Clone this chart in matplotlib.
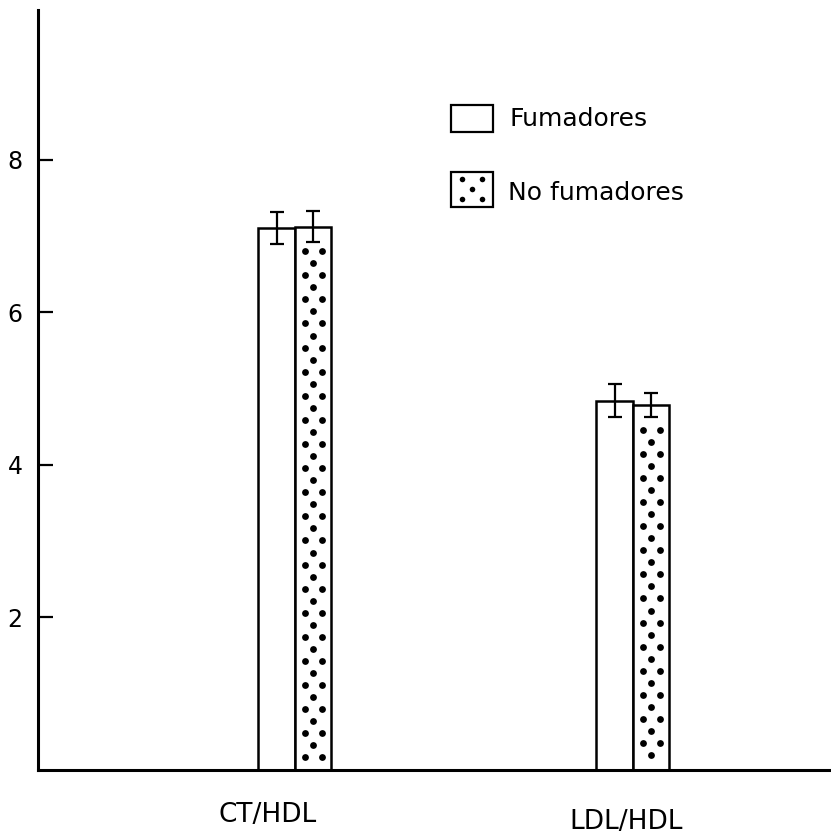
import numpy as np
import matplotlib
matplotlib.use('Agg')
import matplotlib.pyplot as plt
from matplotlib.patches import Rectangle

# ratios for smokers / non smokers
categories = ['CT/HDL', 'LDL/HDL']
fumadores = [7.10, 4.84]
fumadores_err = [0.21, 0.22]
no_fumadores = [7.12, 4.78]
no_fumadores_err = [0.20, 0.16]
yticks = [2, 4, 6, 8]
legend_labels = ['Fumadores', 'No fumadores']

plt.rcParams['font.family'] = ['Noto Sans Condensed', 'DejaVu Sans Condensed', 'DejaVu Sans']

x = np.arange(len(categories))
w = 0.108

fig = plt.figure(figsize=(8.31, 8.40), dpi=100)
ax = fig.add_axes([38/831, 70/840, 793/831, 760/840])

ax.bar(x - w/2, fumadores, w, color='white', edgecolor='black', linewidth=1.8, zorder=2)
ax.bar(x + w/2, no_fumadores, w, color='white', edgecolor='black', linewidth=1.8, zorder=2)
ax.errorbar(x - w/2, fumadores, yerr=fumadores_err, fmt='none', ecolor='black',
            elinewidth=1.6, capsize=5, capthick=1.6, zorder=4)
ax.errorbar(x + w/2, no_fumadores, yerr=no_fumadores_err, fmt='none', ecolor='black',
            elinewidth=1.6, capsize=5, capthick=1.6, zorder=4)

# dotted fill of the non smokers bars
step = 0.158
for xc, top in zip(x + w/2, no_fumadores):
    ys = np.arange(top - 0.32, 0.05, -step)
    for i, yy in enumerate(ys):
        if i % 2 == 0:
            xs = [xc - 0.23*w, xc + 0.23*w]
        else:
            xs = [xc]
        ax.scatter(xs, [yy]*len(xs), s=24, color='black', linewidths=0, zorder=3)

ax.set_xlim(-0.76, 1.586)
ax.set_ylim(0, 9.96)
ax.spines['top'].set_visible(False)
ax.spines['right'].set_visible(False)
ax.spines['left'].set_linewidth(2.2)
ax.spines['bottom'].set_linewidth(2.2)
ax.set_yticks(yticks)
ax.set_yticklabels([str(v) for v in yticks], fontsize=17)
ax.tick_params(axis='y', direction='in', length=11, width=1.6, pad=11)
ax.set_xticks([])

tr = ax.get_xaxis_transform()
ax.text(-0.08, -0.059, categories[0], transform=tr, ha='center', va='center', fontsize=19)
ax.text(0.98, -0.068, categories[1], transform=tr, ha='center', va='center', fontsize=19)

# legend drawn by hand
ax.add_patch(Rectangle((0.521, 0.839), 0.053, 0.0355, transform=ax.transAxes,
                       facecolor='white', edgecolor='black', linewidth=1.6, clip_on=False))
ax.add_patch(Rectangle((0.521, 0.741), 0.053, 0.046, transform=ax.transAxes,
                       facecolor='white', edgecolor='black', linewidth=1.6, clip_on=False))
lx = [0.535, 0.560, 0.5475, 0.535, 0.560]
ly = [0.777, 0.777, 0.764, 0.751, 0.751]
ax.scatter(lx, ly, s=16, color='black', linewidths=0, transform=ax.transAxes, clip_on=False)
ax.text(0.595, 0.857, legend_labels[0], transform=ax.transAxes, ha='left', va='center', fontsize=18)
ax.text(0.593, 0.759, legend_labels[1], transform=ax.transAxes, ha='left', va='center', fontsize=18)

fig.savefig('out.png', dpi=100)
